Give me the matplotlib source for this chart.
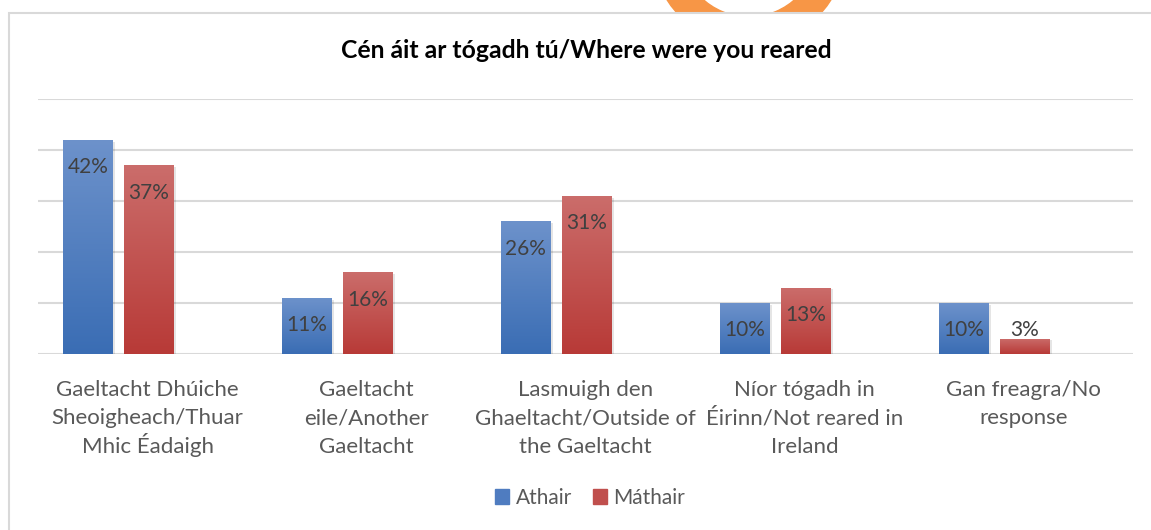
import numpy as np
import matplotlib
matplotlib.use("Agg")
import matplotlib.pyplot as plt
from matplotlib.patches import Wedge, Rectangle
from matplotlib.colors import LinearSegmentedColormap
from matplotlib.transforms import blended_transform_factory

plt.rcParams['font.family'] = ['Lato', 'DejaVu Sans']

# ====== DATA ======
title = "Cén áit ar tógadh tú/Where were you reared"
categories = [
    "Gaeltacht Dhúiche\nSheoigheach/Thuar\nMhic Éadaigh",
    "Gaeltacht\neile/Another\nGaeltacht",
    "Lasmuigh den\nGhaeltacht/Outside of\nthe Gaeltacht",
    "Níor tógadh in\nÉirinn/Not reared in\nIreland",
    "Gan freagra/No\nresponse",
]
series_names = ["Athair", "Máthair"]
athair = [42, 11, 26, 10, 10]
mathair = [37, 16, 31, 13, 3]

# ====== STYLE ======
W, H = 1151, 530
blue_top, blue_bot = "#6d92cb", "#3a6db4"
red_top, red_bot = "#cb6d6b", "#b83a37"
grid_col = "#d9d9d9"
txt_col = "#595959"
lab_col = "#404040"

fig = plt.figure(figsize=(W / 100, H / 100), dpi=100)

# background layer in pixel coords: orange ring + chart frame
bg = fig.add_axes([0, 0, 1, 1], zorder=0)
bg.set_xlim(0, W)
bg.set_ylim(H, 0)
bg.axis('off')
bg.add_patch(Wedge((749, -52), 97, 0, 360, width=28, color="#f79646", zorder=1))
bg.add_patch(Rectangle((9, 13), W + 20, H, facecolor="white",
                       edgecolor=grid_col, lw=1.5, zorder=2))
bg.text(586, 51, title, ha='center', va='center', fontsize=17.8,
        fontweight='bold', color='black', zorder=3)

# main plot area
x0, x1 = 38, 1133
y_base, y_top = 354, 99
ax = fig.add_axes([x0 / W, (H - y_base) / H, (x1 - x0) / W, (y_base - y_top) / H],
                  zorder=1)
ax.set_facecolor('none')
for s in ax.spines.values():
    s.set_visible(False)
ax.set_yticks([0, 10, 20, 30, 40, 50])
ax.set_yticklabels([])
ax.tick_params(axis='y', length=0)
ax.yaxis.grid(True, color=grid_col, lw=1.5)
ax.set_axisbelow(True)

x = np.arange(len(categories))
bw = 0.228
offsets = [-0.272, 0.005]


def gradient_bars(xs, vals, top, bot, name):
    cmap = LinearSegmentedColormap.from_list(name, [bot, top])
    grad = np.linspace(0, 1, 256).reshape(-1, 1)
    # soft shadow
    ax.bar(xs + 0.006, vals, bw + 0.006, bottom=-0.35, color='black',
           alpha=0.10, zorder=2, lw=0)
    bars = ax.bar(xs, vals, bw, color=bot, zorder=3, lw=0, label=name)
    for b in bars:
        bx, by = b.get_x(), b.get_y()
        im = ax.imshow(grad, cmap=cmap, origin='lower', aspect='auto',
                       extent=[bx, bx + b.get_width(), by, by + b.get_height()],
                       zorder=4)
        im.set_clip_path(b)
    for xi, v in zip(xs, vals):
        ax.text(xi, max(v - 5.4, 4.7), f"{v}%", ha='center', va='center',
                fontsize=15, color=lab_col, zorder=5)
    return bars


b1 = gradient_bars(x + offsets[0], athair, blue_top, blue_bot, series_names[0])
b2 = gradient_bars(x + offsets[1], mathair, red_top, red_bot, series_names[1])
ax.set_xlim(-0.5, len(categories) - 0.5)
ax.set_ylim(0, 50)

# category labels, one line at a time for even spacing
ax.set_xticks(x)
ax.set_xticklabels([])
ax.tick_params(axis='x', length=0)
tr = blended_transform_factory(ax.transData, fig.transFigure)
for xi, lab in zip(x, categories):
    for j, line in enumerate(lab.split("\n")):
        base_px = 396 + j * 28.5
        ax.text(xi, 1 - base_px / H, line, transform=tr, ha='center',
                va='baseline', fontsize=16, color=txt_col, clip_on=False)

h1 = Rectangle((0, 0), 1, 1, color="#4f7cc0")
h2 = Rectangle((0, 0), 1, 1, color="#c04f4d")
leg = fig.legend([h1, h2], series_names, loc='center',
                 bbox_to_anchor=(590 / W, 1 - 498 / H), ncol=2, frameon=False,
                 handlelength=0.7, handleheight=0.7, handletextpad=0.3,
                 columnspacing=1.0, fontsize=15)
for t in leg.get_texts():
    t.set_color(txt_col)

fig.savefig("out.png", dpi=100)
